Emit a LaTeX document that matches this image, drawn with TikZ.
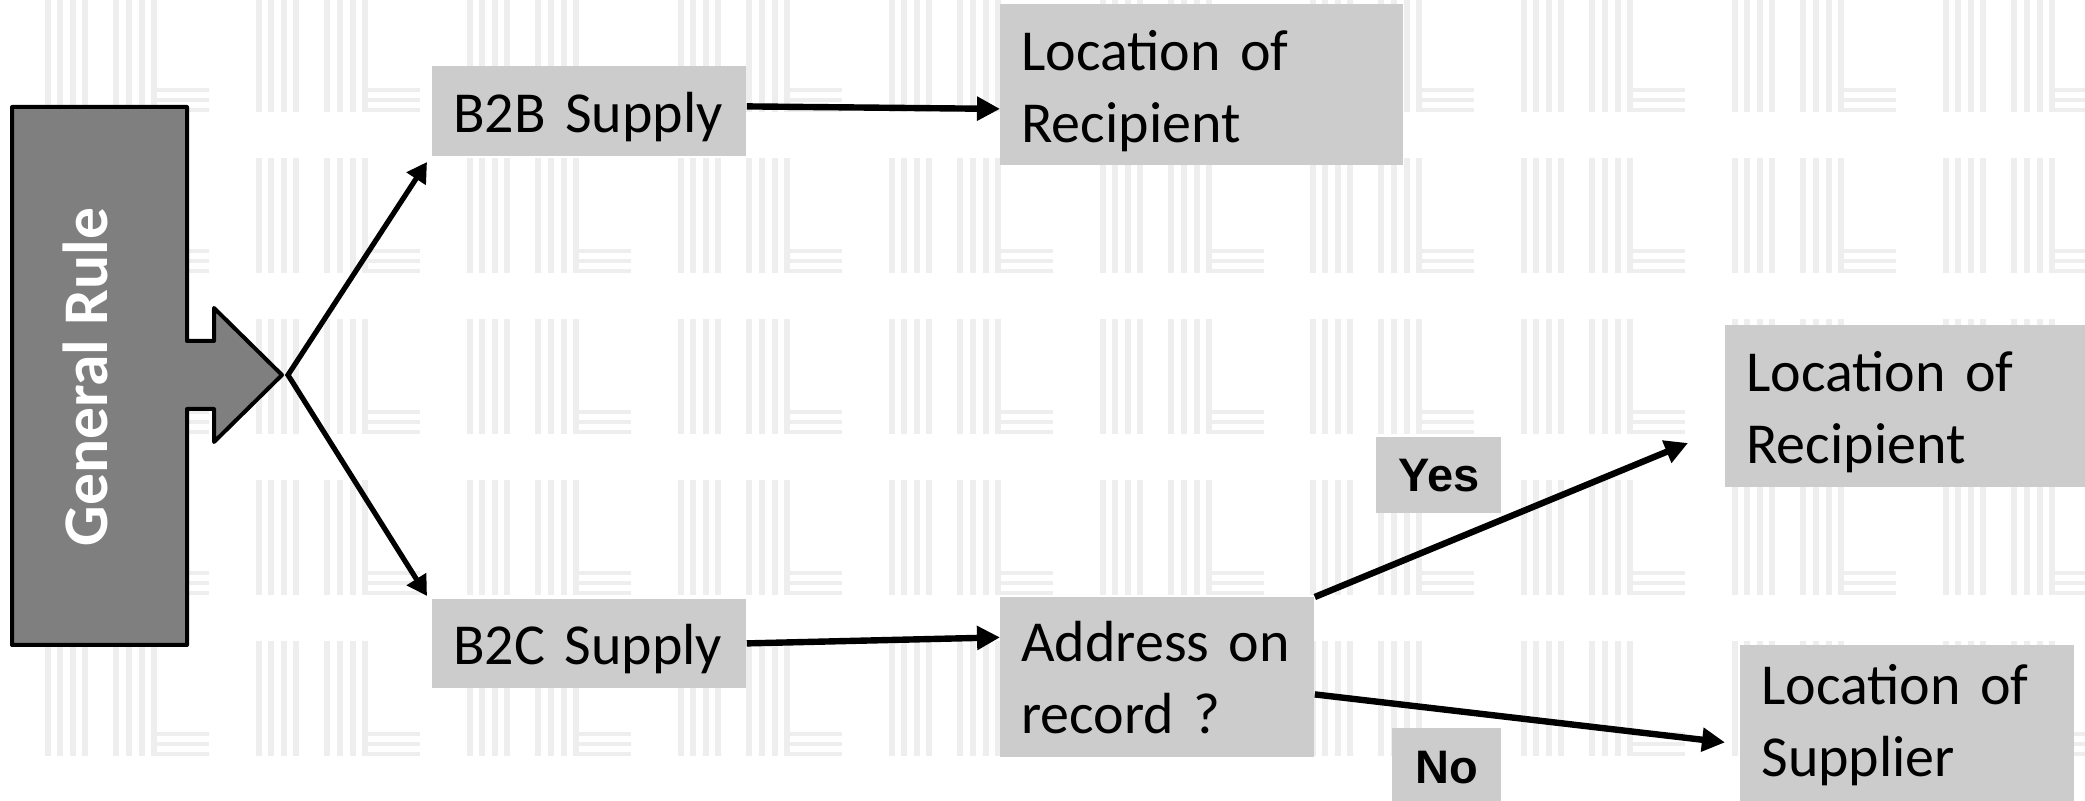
\documentclass[tikz,border=0pt]{standalone}
\usepackage{fontspec}
\setmainfont{Carlito}
\newfontfamily\yesfont{Liberation Sans}
\usetikzlibrary{arrows.meta}
\definecolor{boxgray}{RGB}{204,204,204}
\definecolor{rulegray}{RGB}{127,127,127}
\definecolor{wmgray}{RGB}{238,238,238}
\begin{document}
\begin{tikzpicture}[x=0.5pt,y=-0.5pt,
  box/.style={fill=boxgray, inner xsep=10.5pt, inner ysep=0pt, anchor=north west, align=left,
    font=\fontsize{29}{36}\selectfont},
  lowtext/.style={text height=26pt},
  answer/.style={fill=boxgray, inner sep=0pt, anchor=north west, align=center,
    font=\yesfont\bfseries\fontsize{23.5}{28}\selectfont},
  conn/.style={line width=3.2pt, -{Triangle[length=11.5pt,width=11.5pt]}},
  splitconn/.style={line width=2.6pt, {Triangle[length=10pt,width=11pt]}-{Triangle[length=10pt,width=11pt]}},
  wm/.style={fill=wmgray}
]
\clip (0,0) rectangle (2085,801);
\fill[white] (0,0) rectangle (2085,801);
% watermark tiles
\foreach \k in {0,...,9}{
  \foreach \j in {-1,...,3}{
    \begin{scope}[shift={({45+210.9*\k},{158+161*\j})}]
      \foreach \d in {0,12,25,37,68,81,94,106} \fill[wm] (\d,0) rectangle ++(6,115);
      \foreach \e in {91,101,111} \fill[wm] (112,\e) rectangle ++(52,4);
    \end{scope}
  }
}
% general rule shape
\draw[line width=2pt, fill=rulegray, line join=round]
  (12,107) -- (187,107) -- (187,341) -- (214,341) -- (214,308) -- (282,375)
  -- (214,442) -- (214,409) -- (187,409) -- (187,645) -- (12,645) -- cycle;
\node[rotate=90, text=white, font=\bfseries\fontsize{31.8}{36}\selectfont] (rule) at (85,377) {General Rule};
% boxes
\node[box, lowtext, text width=136pt, minimum height=45pt] (b2b) at (432,66) {B2B Supply};
\node[box, lowtext, text width=136pt, minimum height=44.5pt] (b2c) at (432,598.5) {B2C Supply};
\node[box, lowtext, text width=180.5pt, minimum height=80.5pt] (rec1) at (1000,4) {Location of\\Recipient};
\node[box, text width=136pt, minimum height=80pt] (addr) at (1000,597) {Address on\\record ?};
\node[box, lowtext, text width=170pt, minimum height=81pt] (rec2) at (1725,325) {Location of\\Recipient};
\node[box, text width=146pt, minimum height=80pt] (sup) at (1740,645) {Location of\\Supplier};
\node[answer, minimum width=62.5pt, minimum height=38pt] (yes) at (1376,437) {Yes};
\node[answer, minimum width=54.5pt, minimum height=39pt] (no) at (1392,728) {No};
% connectors
\coordinate (split) at (288,375);
\coordinate (b2bend) at (427,162);
\coordinate (b2cend) at (427,596);
\coordinate (yesend) at (1688,443);
\draw[splitconn, line join=miter] (b2bend) -- (split) -- (b2cend);
\draw[conn] ([yshift=2.5pt]b2b.east) -- ([yshift=-12pt]rec1.west);
\draw[conn] (b2c.east) -- ([yshift=20pt]addr.west);
\draw[conn] (addr.north east) -- (yesend);
\draw[conn] ([yshift=-8.5pt]addr.east) -- ([xshift=-7.5pt,yshift=-8.5pt]sup.west);
\end{tikzpicture}
\end{document}
